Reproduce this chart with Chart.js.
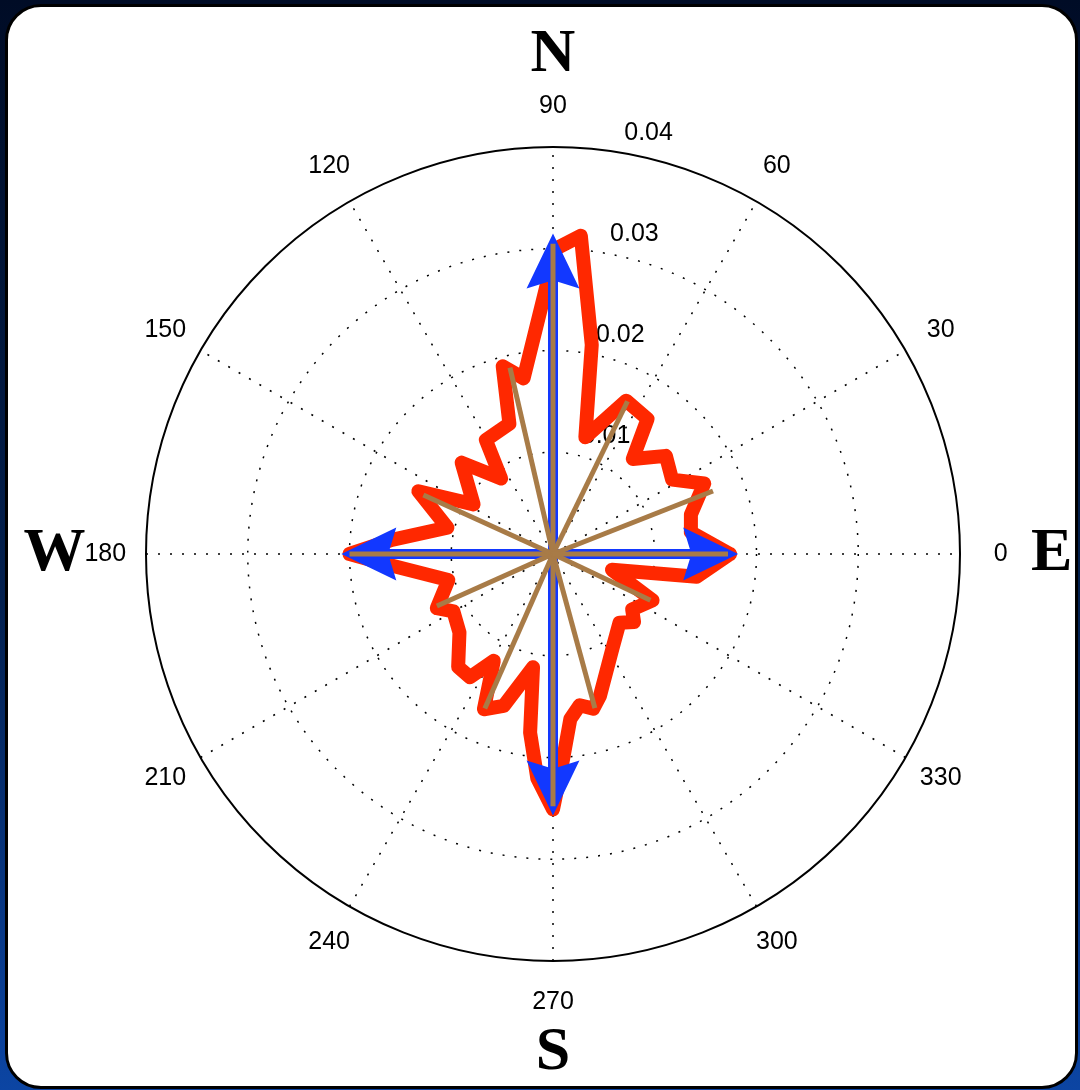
<!DOCTYPE html>
<html>
<head>
<meta charset="utf-8">
<title>Rose</title>
<script src="https://cdn.jsdelivr.net/npm/chart.js@4.4.1/dist/chart.umd.min.js"></script>
<style>
  html, body {
    margin: 0;
    padding: 0;
    width: 1080px;
    height: 1090px;
    overflow: hidden;
    background: linear-gradient(to bottom, #000c26 0%, #03204f 55%, #0c45a3 100%);
  }
  #panel {
    position: absolute;
    left: 5px;
    top: 4px;
    width: 1067px;
    height: 1079px;
    border: 3px solid #000;
    border-radius: 36px;
    background: #fff;
  }
  #rose {
    position: absolute;
    left: 0;
    top: 0;
  }
</style>
</head>
<body>
<div id="panel"></div>
<canvas id="rose" width="1080" height="1090"></canvas>
<script>
// rose outline (degrees, radius)
const roseAngles = [0, 9, 16, 25, 32, 41, 50, 55, 64.5, 74.5, 79.5, 85, 89.5,
  99.5, 105, 108.5, 120.5, 124.5, 135, 148, 155, 166, 175, 180,
  183.5, 194, 205, 210, 220, 230, 236, 241, 246, 252, 260, 262.7, 266, 270,
  272, 276, 280, 284.6, 288.3, 302, 314, 320, 325, 335, 345, 351];
const roseValues = [0.0174, 0.0137, 0.0141, 0.0164, 0.0138, 0.0147, 0.0122, 0.0162, 0.0167, 0.0119, 0.0209, 0.0314, 0.0300,
  0.0175, 0.0191, 0.0135, 0.0130, 0.0090, 0.0127, 0.0092, 0.0146, 0.0107, 0.0159, 0.0200,
  0.0164, 0.0106, 0.0126, 0.0113, 0.0120, 0.0145, 0.0146, 0.0120, 0.0167, 0.0157, 0.0113, 0.0177, 0.0221, 0.0251,
  0.0215, 0.0163, 0.0151, 0.0157, 0.0147, 0.0110, 0.0094, 0.0104, 0.0095, 0.0108, 0.0060, 0.0143];

// compass arrows
const arrowAngles = [0, 90, 180, 270];
const arrowValues = [0.0182, 0.0315, 0.0208, 0.0257];

// mean direction spokes
const spokeAngles = [0, 21.5, 64, 90, 103, 155.5, 180, 204.1, 246.2, 270, 285.2, 334.6];
const spokeValues = [0.0172, 0.0169, 0.0167, 0.0305, 0.0188, 0.0140, 0.0200, 0.0125, 0.0166, 0.0248, 0.0157, 0.0106];

// axes
const ringTicks = [0.01, 0.02, 0.03, 0.04];
const angleTicks = [0, 30, 60, 90, 120, 150, 180, 210, 240, 270, 300, 330];
const compassLetters = ['E', 'N', 'W', 'S'];
const compassAngles = [0, 90, 180, 270];

const HEAD_LEN = 0.0054;
const HEAD_HALF = 0.0026;
const HEAD_NOTCH = 0.0008;
const LETTER_R = 0.049;

const toXY = (deg, r) => {
  const t = deg * Math.PI / 180;
  return {x: r * Math.cos(t), y: r * Math.sin(t)};
};

const rosePoints = roseAngles.map((a, i) => toXY(a, roseValues[i]));
rosePoints.push(rosePoints[0]);

const datasets = [];

datasets.push({
  data: rosePoints,
  showLine: true,
  borderColor: '#ff2800',
  borderWidth: 14,
  borderJoinStyle: 'round',
  borderCapStyle: 'round',
  pointRadius: 0,
  order: 2
});

// arrow shafts; the barbed heads are filled in by the plugin below
arrowAngles.forEach((a, i) => {
  const v = arrowValues[i];
  const tip = toXY(a, v);
  const base = toXY(a, v - HEAD_LEN);
  const notch = toXY(a, v - HEAD_LEN + HEAD_NOTCH);
  const side = toXY(a + 90, HEAD_HALF);
  datasets.push({
    data: [{x: 0, y: 0}, toXY(a, v - HEAD_LEN * 0.5)],
    showLine: true,
    borderColor: '#1238ff',
    borderWidth: 10,
    borderCapStyle: 'butt',
    pointRadius: 0,
    order: 1,
    head: [
      tip,
      {x: base.x + side.x, y: base.y + side.y},
      notch,
      {x: base.x - side.x, y: base.y - side.y}
    ]
  });
});

spokeAngles.forEach((a, i) => {
  datasets.push({
    data: [{x: 0, y: 0}, toXY(a, spokeValues[i])],
    showLine: true,
    borderColor: '#a87b47',
    borderWidth: 5,
    borderCapStyle: 'butt',
    pointRadius: 0,
    order: 0
  });
});

const polarGrid = {
  id: 'polarGrid',
  beforeDatasetsDraw(chart) {
    const {ctx} = chart;
    const xs = chart.scales.x, ys = chart.scales.y;
    const P = (deg, r) => {
      const p = toXY(deg, r);
      return [xs.getPixelForValue(p.x), ys.getPixelForValue(p.y)];
    };
    const cx = xs.getPixelForValue(0), cy = ys.getPixelForValue(0);
    const rmax = ringTicks[ringTicks.length - 1];
    ctx.save();

    // dotted rings and spokes
    ctx.strokeStyle = '#000';
    ctx.lineWidth = 1.5;
    ctx.setLineDash([2, 10]);
    ringTicks.slice(0, -1).forEach(r => {
      ctx.beginPath();
      ctx.arc(cx, cy, xs.getPixelForValue(r) - cx, 0, 2 * Math.PI);
      ctx.stroke();
    });
    angleTicks.filter(a => a < 180).forEach(a => {
      const [x1, y1] = P(a + 180, rmax);
      const [x2, y2] = P(a, rmax);
      ctx.beginPath();
      ctx.moveTo(x1, y1);
      ctx.lineTo(x2, y2);
      ctx.stroke();
    });

    ctx.setLineDash([]);
    ctx.lineWidth = 2;
    ctx.beginPath();
    ctx.arc(cx, cy, xs.getPixelForValue(rmax) - cx, 0, 2 * Math.PI);
    ctx.stroke();

    ctx.fillStyle = '#000';
    ctx.font = '25px "Liberation Sans", Arial, sans-serif';
    ctx.textAlign = 'center';
    ctx.textBaseline = 'middle';
    angleTicks.forEach(a => {
      const [x, y] = P(a, rmax * 1.1);
      ctx.fillText(String(a), x, y);
    });

    ctx.textAlign = 'left';
    ctx.textBaseline = 'bottom';
    ringTicks.forEach(r => {
      const [x, y] = P(82, r + 0.0005);
      ctx.fillText('  ' + r, x, y);
    });

    ctx.font = 'bold 62px "Liberation Serif", "Times New Roman", serif';
    ctx.textAlign = 'center';
    ctx.textBaseline = 'middle';
    compassAngles.forEach((a, i) => {
      const [x, y] = P(a, LETTER_R);
      ctx.fillText(compassLetters[i], x, y);
    });
    ctx.restore();
  },
  afterDatasetDraw(chart, args) {
    const ds = chart.data.datasets[args.index];
    if (!ds.head) return;
    const {ctx} = chart;
    const xs = chart.scales.x, ys = chart.scales.y;
    ctx.save();
    ctx.fillStyle = ds.borderColor;
    ctx.beginPath();
    ds.head.forEach((p, i) => {
      const px = xs.getPixelForValue(p.x), py = ys.getPixelForValue(p.y);
      if (i === 0) ctx.moveTo(px, py); else ctx.lineTo(px, py);
    });
    ctx.closePath();
    ctx.fill();
    ctx.restore();
  }
};

new Chart(document.getElementById('rose'), {
  type: 'scatter',
  data: {datasets},
  options: {
    responsive: false,
    animation: false,
    events: [],
    layout: {padding: {left: 44.25, right: 18.25, top: 45.25, bottom: 27.25}},
    scales: {
      x: {type: 'linear', min: -0.05, max: 0.05, display: false},
      y: {type: 'linear', min: -0.05, max: 0.05, display: false}
    },
    plugins: {
      legend: {display: false},
      tooltip: {enabled: false}
    }
  },
  plugins: [polarGrid]
});
</script>
</body>
</html>
